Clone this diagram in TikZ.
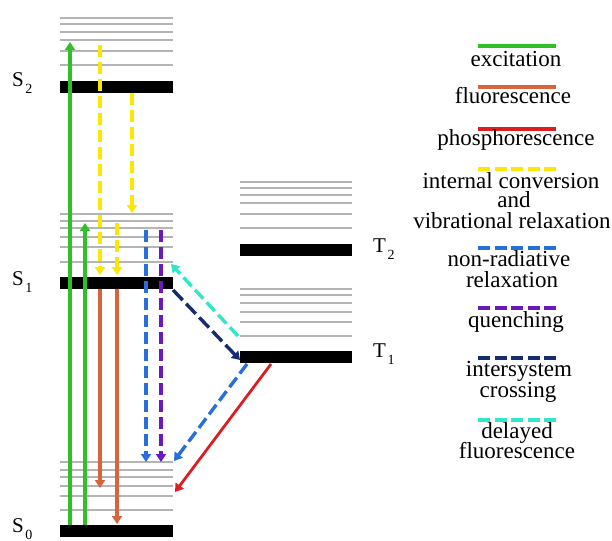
\documentclass[tikz,border=0pt]{standalone}
\usepackage{fontspec}
\setmainfont{Liberation Serif}
\newfontfamily\tfont{Liberation Serif}
\usetikzlibrary{arrows.meta}
\definecolor{cExc}{RGB}{50,190,40}
\definecolor{cFlu}{RGB}{214,100,60}
\definecolor{cPho}{RGB}{220,30,35}
\definecolor{cIC}{RGB}{250,232,0}
\definecolor{cNR}{RGB}{40,110,220}
\definecolor{cQu}{RGB}{105,25,190}
\definecolor{cISC}{RGB}{20,45,110}
\definecolor{cDF}{RGB}{50,230,200}
\definecolor{cGray}{RGB}{180,180,180}
\begin{document}
\begin{tikzpicture}[x=1pt,y=-1pt,
  gl/.style={draw=cGray, line width=2.6pt},
  bar/.style={fill=black, draw=none, inner sep=0pt, minimum height=12pt},
  arr/.style={line width=3.4pt, -{Triangle[length=8pt,width=10pt]}},
  dsh/.style={dash pattern=on 12pt off 5pt},
  lg/.style={line width=3.5pt},
  lgd/.style={line width=3.5pt, dash pattern=on 12pt off 4.5pt},
  txt/.style={font=\tfont\fontsize{23}{21}\selectfont, inner sep=0pt, anchor=base},
  lvl/.style={font=\tfont\fontsize{21}{21}\selectfont, inner sep=0pt, anchor=base west},
]
\useasboundingbox (0,0) rectangle (612,540);
\newcommand{\lvsub}[2]{#1\kern1.5pt\raisebox{-7pt}{\fontsize{14}{14}\selectfont #2}}

% gray vibrational levels
\foreach \y in {18,24,32,40,51,65} \draw[gl] (60,\y) -- (173,\y);
\foreach \y in {214,221,228,237,247,262} \draw[gl] (60,\y) -- (173,\y);
\foreach \y in {462,470,477,486,496,510} \draw[gl] (60,\y) -- (173,\y);
\foreach \y in {182,188,195,203,214,228} \draw[gl] (240,\y) -- (352,\y);
\foreach \y in {289,295,303,312,322,336} \draw[gl] (240,\y) -- (352,\y);

% electronic levels
\node[bar, minimum width=113pt] (S2) at (116.5,87) {};
\node[bar, minimum width=113pt] (S1) at (116.5,283) {};
\node[bar, minimum width=113pt] (S0) at (116.5,531) {};
\node[bar, minimum width=112pt] (T2) at (296,250) {};
\node[bar, minimum width=112pt] (T1) at (296,357) {};

% level labels
\node[lvl] (lS2) at (12,87) {\lvsub{S}{2}};
\node[lvl] (lS1) at (12,285) {\lvsub{S}{1}};
\node[lvl] (lS0) at (12,532) {\lvsub{S}{0}};
\node[lvl] (lT2) at (373,252) {\lvsub{T}{2}};
\node[lvl] (lT1) at (373,357) {\lvsub{T}{1}};

% endpoints
\coordinate (g1a) at (70,525);  \coordinate (g1b) at (70,42);
\coordinate (g2a) at (85,525);  \coordinate (g2b) at (85,223);
\coordinate (y1a) at (100,45);  \coordinate (y1b) at (100,275);
\coordinate (y2a) at (132,93);  \coordinate (y2b) at (132,213);
\coordinate (y3a) at (117,223); \coordinate (y3b) at (117,275);
\coordinate (o1a) at (100,289); \coordinate (o1b) at (100,488);
\coordinate (o2a) at (117,289); \coordinate (o2b) at (117,524);
\coordinate (b1a) at (146,230); \coordinate (b1b) at (146,462);
\coordinate (p1a) at (161,230); \coordinate (p1b) at (161,462);
\coordinate (ca) at (238,336);  \coordinate (cb) at (171,264);
\coordinate (na) at (173,290);  \coordinate (nb) at (240,360);
\coordinate (ba) at (247,364);  \coordinate (bb) at (174,461);
\coordinate (ra) at (271,364);  \coordinate (rb) at (175,492);

% transitions
\draw[arr, cExc] (g1a) -- (g1b);
\draw[arr, cExc] (g2a) -- (g2b);
\draw[arr, dsh, cIC] (y1a) -- (y1b);
\draw[arr, dsh, cIC] (y2a) -- (y2b);
\draw[arr, dsh, cIC] (y3a) -- (y3b);
\draw[arr, cFlu] (o1a) -- (o1b);
\draw[arr, cFlu] (o2a) -- (o2b);
\draw[arr, dsh, cNR] (b1a) -- (b1b);
\draw[arr, dsh, cQu] (p1a) -- (p1b);
\draw[arr, dsh, cDF] (ca) -- (cb);
\draw[arr, dash pattern=on 14pt off 5pt, cISC] (na) -- (nb);
\draw[arr, dsh, cNR] (ba) -- (bb);
\draw[arr, cPho, line width=2.8pt] (ra) -- (rb);

% legend
\coordinate (l1a) at (478,46);  \coordinate (l1b) at (556,46);
\coordinate (l2a) at (478,87);  \coordinate (l2b) at (556,87);
\coordinate (l3a) at (478,129); \coordinate (l3b) at (556,129);
\coordinate (l4a) at (478,169); \coordinate (l4b) at (556,169);
\coordinate (l5a) at (478,248); \coordinate (l5b) at (556,248);
\coordinate (l6a) at (478,308); \coordinate (l6b) at (556,308);
\coordinate (l7a) at (478,358); \coordinate (l7b) at (556,358);
\coordinate (l8a) at (478,420); \coordinate (l8b) at (556,420);
\draw[lg, cExc] (l1a) -- (l1b);
\draw[lg, cFlu] (l2a) -- (l2b);
\draw[lg, cPho] (l3a) -- (l3b);
\draw[lgd, cIC] (l4a) -- (l4b);
\draw[lgd, cNR] (l5a) -- (l5b);
\draw[lgd, cQu] (l6a) -- (l6b);
\draw[lgd, cISC] (l7a) -- (l7b);
\draw[lgd, cDF] (l8a) -- (l8b);

\node[txt] (t1) at (516,67) {excitation};
\node[txt] (t2) at (513,104) {fluorescence};
\node[txt] (t3) at (516,146) {phosphorescence};
\node[txt] (t4a) at (511,188) {internal conversion};
\node[txt] (t4b) at (514,207) {and};
\node[txt] (t4c) at (512,228) {vibrational relaxation};
\node[txt] (t5a) at (509,266) {non-radiative};
\node[txt] (t5b) at (512,287) {relaxation};
\node[txt] (t6) at (516,327) {quenching};
\node[txt] (t7a) at (519,376) {intersystem};
\node[txt] (t7b) at (518,397) {crossing};
\node[txt] (t8a) at (517,438) {delayed};
\node[txt] (t8b) at (517,458) {fluorescence};
\end{tikzpicture}
\end{document}
